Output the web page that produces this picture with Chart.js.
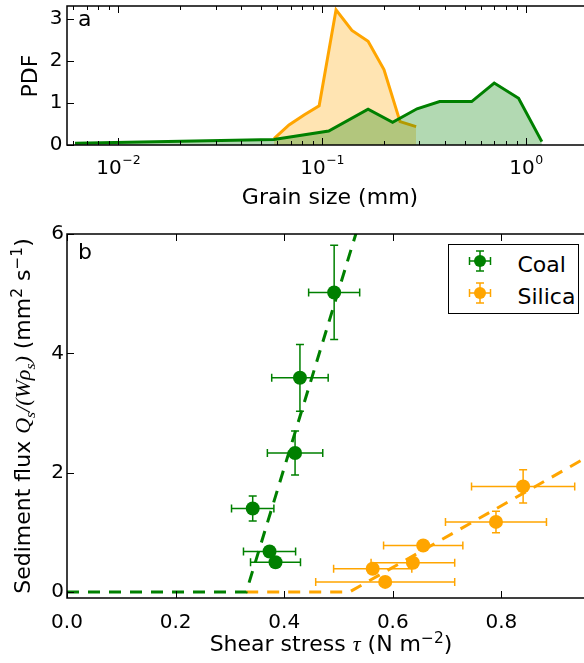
<!DOCTYPE html>
<html>
<head>
<meta charset="utf-8">
<script src="https://cdn.jsdelivr.net/npm/chart.js@4.4.1/dist/chart.umd.min.js"></script>
<style>
  html, body { margin: 0; padding: 0; background: #fff; overflow: hidden; }
  body { width: 584px; height: 663px; position: relative; font-family: 'DejaVu Sans', sans-serif; color: #000; }
  canvas { position: absolute; left: 0; }
  #chartA { top: 0; }
  #chartB { top: 215px; }
  .lbl { position: absolute; white-space: nowrap; font-size: 22px; line-height: 26px; }
  .m { font-family: 'Liberation Serif', serif; font-style: italic; }
  .sub { font-size: 70%; position: relative; top: 0.3em; }
  .sup { font-size: 70%; position: relative; top: -0.5em; }
  .rot { transform: translate(-50%, -50%) rotate(-90deg); }
  .legend { position: absolute; left: 448px; top: 244px; width: 131px; height: 70px; box-sizing: border-box;
            border: 1.5px solid #000; background: #fff; }
  .legend svg { position: absolute; }
</style>
</head>
<body>
<canvas id="chartA" width="630" height="215"></canvas>
<canvas id="chartB" width="630" height="448"></canvas>

<div class="lbl" style="left:78px; top:6px;">a</div>
<div class="lbl" style="left:78px; top:239px;">b</div>
<div class="lbl rot" style="left:29.6px; top:75.5px;">PDF</div>
<div class="lbl" style="left:330px; top:184px; transform:translateX(-50%);">Grain size (mm)</div>
<div class="lbl rot" style="left:24px; top:416px;">Sediment flux <span class="m">Q<span class="sub">s</span>/(Wρ<span class="sub">s</span>)</span> (mm<span class="sup">2</span> s<span class="sup">−1</span>)</div>
<div class="lbl" style="left:331px; top:631px; transform:translateX(-50%);">Shear stress <span class="m">τ</span> (N m<span class="sup">−2</span>)</div>

<div class="legend" id="legend"></div>

<script>
// ---- panel a: grain size distributions ----
const coalGrain   = [0.00614, 0.058, 0.1077, 0.168, 0.2216, 0.292, 0.377, 0.541, 0.698, 0.919, 1.195];
const coalPdf     = [0.04, 0.13, 0.33, 0.85, 0.54, 0.86, 1.03, 1.03, 1.47, 1.11, 0.08];
const silicaGrain = [0.0581, 0.0688, 0.0815, 0.0967, 0.117, 0.140, 0.168, 0.201, 0.241, 0.289];
const silicaPdf   = [0.15, 0.476, 0.714, 0.929, 3.21, 2.72, 2.46, 1.79, 0.556, 0.437];

const grainMajor  = [0.01, 0.1, 1];
const grainLabels = [['10', '−2'], ['10', '−1'], ['10', '0']];
const grainMinor  = [0.006, 0.007, 0.008, 0.009, 0.02, 0.03, 0.04, 0.05, 0.06, 0.07, 0.08, 0.09,
                     0.2, 0.3, 0.4, 0.5, 0.6, 0.7, 0.8, 0.9, 2];
const pdfTicks    = [0, 1, 2, 3];

// ---- panel b: sediment flux vs shear stress ----
const coalTau      = [0.492, 0.429, 0.420, 0.342, 0.373, 0.384];
const coalQ        = [5.02, 3.59, 2.33, 1.40, 0.68, 0.50];
const coalTauErr   = [0.047, 0.052, 0.051, 0.039, 0.048, 0.046];
const coalQErr     = [0.79, 0.56, 0.37, 0.21, 0.06, 0.04];

const silicaTau    = [0.840, 0.790, 0.656, 0.637, 0.563, 0.586];
const silicaQ      = [1.77, 1.175, 0.78, 0.49, 0.39, 0.17];
const silicaTauErr = [0.095, 0.093, 0.073, 0.077, 0.072, 0.128];
const silicaQErr   = [0.28, 0.18, 0.08, 0.04, 0.03, 0.03];

const coalFitTau   = [0, 0.33, 0.54];
const coalFitQ     = [0, 0, 6.24];
const silicaFitTau = [0.33, 0.52, 1.0];
const silicaFitQ   = [0, 0, 2.48];

const tauTicks  = [0, 0.2, 0.4, 0.6, 0.8, 1.0];
const fluxTicks = [0, 2, 4, 6];

const GREEN = '#008000';
const ORANGE = '#ffa500';

Chart.defaults.font.family = "'DejaVu Sans'";
Chart.defaults.color = '#000';

const pts = (xs, ys) => xs.map((x, i) => ({ x: x, y: ys[i] }));

// box around the plot with inward ticks on all sides (matplotlib classic look)
const axisBox = {
  id: 'axisBox',
  afterDatasetsDraw(chart, args, o) {
    const { ctx, chartArea: a } = chart;
    const xs = chart.scales.x, ys = chart.scales.y;
    ctx.save();
    ctx.strokeStyle = '#000';
    ctx.lineWidth = 1;
    ctx.beginPath();
    const xt = (vals, len) => vals.forEach(v => {
      const p = Math.round(xs.getPixelForValue(v)) + 0.5;
      ctx.moveTo(p, a.bottom); ctx.lineTo(p, a.bottom - len);
      ctx.moveTo(p, a.top); ctx.lineTo(p, a.top + len);
    });
    const yt = (vals, len) => vals.forEach(v => {
      const p = Math.round(ys.getPixelForValue(v)) + 0.5;
      ctx.moveTo(a.left, p); ctx.lineTo(a.left + len, p);
      ctx.moveTo(a.right, p); ctx.lineTo(a.right - len, p);
    });
    xt(o.xMajor, 7);
    xt(o.xMinor || [], 4);
    yt(o.yMajor, 7);
    ctx.stroke();
    ctx.lineWidth = 1.5;
    ctx.strokeRect(a.left, a.top, a.right - a.left, a.bottom - a.top);
    ctx.restore();
  }
};

// 10^n tick labels for the log axis
const powLabels = {
  id: 'powLabels',
  afterDraw(chart, args, o) {
    const ctx = chart.ctx, xs = chart.scales.x;
    ctx.save();
    ctx.fillStyle = '#000';
    ctx.textBaseline = 'alphabetic';
    o.values.forEach((v, i) => {
      const [b, e] = o.labels[i];
      ctx.font = "20px 'DejaVu Sans'";
      const wb = ctx.measureText(b).width;
      ctx.font = "12.5px 'DejaVu Sans'";
      const we = ctx.measureText(e).width;
      const x0 = xs.getPixelForValue(v) - (wb + we) / 2;
      ctx.font = "20px 'DejaVu Sans'";
      ctx.fillText(b, x0, o.baseline);
      ctx.font = "12.5px 'DejaVu Sans'";
      ctx.fillText(e, x0 + wb + 0.5, o.baseline - 10.5);
    });
    ctx.restore();
  }
};

// error bars with caps, drawn under the markers
const errorBars = {
  id: 'errorBars',
  beforeDatasetsDraw(chart) {
    const ctx = chart.ctx, xs = chart.scales.x, ys = chart.scales.y;
    const cap = 4;
    ctx.save();
    ctx.lineWidth = 1.5;
    chart.data.datasets.forEach(ds => {
      if (!ds.errX) return;
      ctx.strokeStyle = ds.backgroundColor;
      ctx.beginPath();
      ds.data.forEach((p, i) => {
        const cx = xs.getPixelForValue(p.x), cy = ys.getPixelForValue(p.y);
        const x1 = xs.getPixelForValue(p.x - ds.errX[i]), x2 = xs.getPixelForValue(p.x + ds.errX[i]);
        const y1 = ys.getPixelForValue(p.y - ds.errY[i]), y2 = ys.getPixelForValue(p.y + ds.errY[i]);
        ctx.moveTo(x1, cy); ctx.lineTo(x2, cy);
        ctx.moveTo(x1, cy - cap); ctx.lineTo(x1, cy + cap);
        ctx.moveTo(x2, cy - cap); ctx.lineTo(x2, cy + cap);
        ctx.moveTo(cx, y1); ctx.lineTo(cx, y2);
        ctx.moveTo(cx - cap, y1); ctx.lineTo(cx + cap, y1);
        ctx.moveTo(cx - cap, y2); ctx.lineTo(cx + cap, y2);
      });
      ctx.stroke();
    });
    ctx.restore();
  }
};

const noGrid = { display: false, drawTicks: false };
// keep Chart.js from reserving extra room for end labels
const noPad = s => { s.paddingTop = 0; s.paddingBottom = 0; s.paddingLeft = 0; s.paddingRight = 0; };

// Panel a
new Chart(document.getElementById('chartA'), {
  type: 'line',
  data: {
    datasets: [
      {
        data: pts(coalGrain, coalPdf),
        borderColor: GREEN, backgroundColor: 'rgba(0,128,0,0.3)',
        fill: 'origin', borderWidth: 3, pointRadius: 0, tension: 0
      },
      {
        data: pts(silicaGrain, silicaPdf),
        borderColor: ORANGE, backgroundColor: 'rgba(255,165,0,0.3)',
        fill: 'origin', borderWidth: 3, pointRadius: 0, tension: 0
      }
    ]
  },
  options: {
    responsive: false,
    animation: false,
    events: [],
    layout: { padding: { top: 6, right: 20, left: 0, bottom: 0 } },
    scales: {
      x: {
        type: 'logarithmic',
        min: 0.005609, max: 2.58,
        grid: noGrid, border: { display: false },
        ticks: { display: false },
        afterBuildTicks: s => { s.ticks = grainMajor.map(v => ({ value: v })); },
        afterFit: s => { s.height = 70; noPad(s); }
      },
      y: {
        min: 0, max: 3.3,
        grid: noGrid, border: { display: false },
        ticks: { font: { size: 20 }, padding: 4.5 },
        afterBuildTicks: s => { s.ticks = pdfTicks.map(v => ({ value: v })); },
        afterFit: s => { s.width = 67; noPad(s); }
      }
    },
    plugins: {
      legend: { display: false },
      tooltip: { enabled: false },
      axisBox: { xMajor: grainMajor, xMinor: grainMinor, yMajor: pdfTicks },
      powLabels: { values: grainMajor, labels: grainLabels, baseline: 174 }
    }
  },
  plugins: [axisBox, powLabels]
});

// Panel b
new Chart(document.getElementById('chartB'), {
  type: 'scatter',
  data: {
    datasets: [
      {
        data: pts(coalFitTau, coalFitQ), showLine: true, order: 0,
        borderColor: GREEN, borderWidth: 3, borderDash: [12, 9], pointRadius: 0
      },
      {
        data: pts(silicaFitTau, silicaFitQ), showLine: true, order: 0,
        borderColor: ORANGE, borderWidth: 3, borderDash: [12, 9], pointRadius: 0
      },
      {
        label: 'Coal', data: pts(coalTau, coalQ), order: 1,
        errX: coalTauErr, errY: coalQErr,
        backgroundColor: GREEN, borderWidth: 0, pointRadius: 7
      },
      {
        label: 'Silica', data: pts(silicaTau, silicaQ), order: 1,
        errX: silicaTauErr, errY: silicaQErr,
        backgroundColor: ORANGE, borderWidth: 0, pointRadius: 7
      }
    ]
  },
  options: {
    responsive: false,
    animation: false,
    events: [],
    layout: { padding: { top: 19, right: 20, left: 0, bottom: 0 } },
    scales: {
      x: {
        min: 0, max: 1.0,
        grid: noGrid, border: { display: false },
        ticks: { font: { size: 20 }, padding: 13, callback: v => v.toFixed(1) },
        afterBuildTicks: s => { s.ticks = tauTicks.map(v => ({ value: v })); },
        afterFit: s => { s.height = 65; noPad(s); }
      },
      y: {
        min: -0.1, max: 6,
        grid: noGrid, border: { display: false },
        ticks: { font: { size: 20 }, padding: 3 },
        afterBuildTicks: s => { s.ticks = fluxTicks.map(v => ({ value: v })); },
        afterFit: s => { s.width = 67; noPad(s); }
      }
    },
    plugins: {
      legend: { display: false },
      tooltip: { enabled: false },
      axisBox: { xMajor: tauTicks, yMajor: fluxTicks }
    }
  },
  plugins: [errorBars, axisBox]
});

// Legend with error-bar glyphs
const legendItems = [
  { label: 'Coal', color: GREEN },
  { label: 'Silica', color: ORANGE }
];
const legendEl = document.getElementById('legend');
legendItems.forEach((it, i) => {
  const cy = 17.7 + i * 31.6;
  legendEl.insertAdjacentHTML('beforeend', `
    <svg width="30" height="26" style="left:${480 - 448 - 1.5 - 15}px; top:${cy - 1.5 - 13}px">
      <g stroke="${it.color}" stroke-width="1.5" fill="none">
        <line x1="4.5" y1="13" x2="25.5" y2="13"/>
        <line x1="4.5" y1="9" x2="4.5" y2="17"/>
        <line x1="25.5" y1="9" x2="25.5" y2="17"/>
        <line x1="15" y1="3" x2="15" y2="23"/>
        <line x1="11" y1="3" x2="19" y2="3"/>
        <line x1="11" y1="23" x2="19" y2="23"/>
      </g>
      <circle cx="15" cy="13" r="6" fill="${it.color}"/>
    </svg>
    <div class="lbl" style="left:${518 - 448 - 1.5}px; top:${cy + 7.6 - 20.6 - 1.5 + 4}px">${it.label}</div>`);
});
</script>
</body>
</html>
